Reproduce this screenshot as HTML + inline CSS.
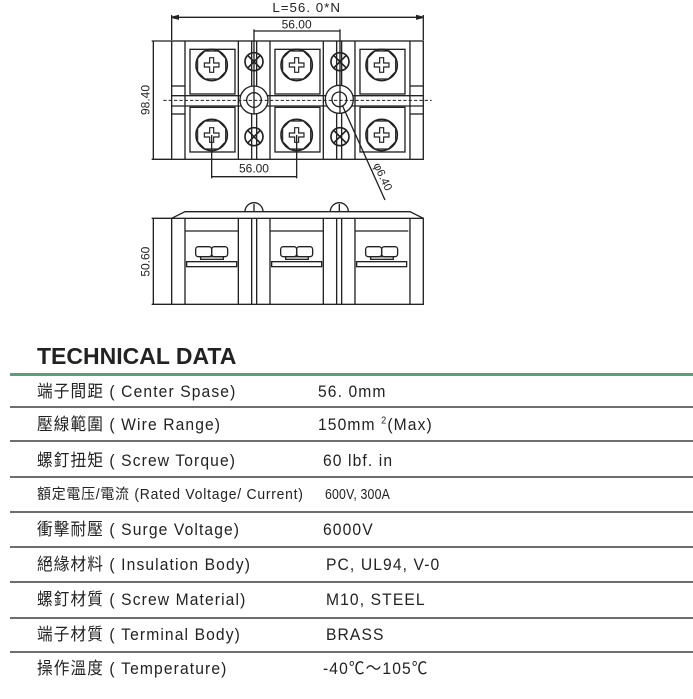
<!DOCTYPE html>
<html><head><meta charset="utf-8">
<style>
html,body{margin:0;padding:0;background:#fff;width:693px;height:699px;overflow:hidden;position:relative}
.t{position:absolute;font-family:"Liberation Sans","Noto Sans CJK TC",sans-serif;font-size:17px;line-height:20px;color:#222;white-space:nowrap;letter-spacing:1.2px;transform:scaleX(0.92);transform-origin:0 50%}
.h{position:absolute;left:37px;top:343px;font-family:"Liberation Sans",sans-serif;font-weight:bold;font-size:23px;color:#222}
.g{position:absolute;left:10px;width:683px;height:3px;background:#5c9e7c;top:373px}
.s{position:absolute;left:10px;width:683px;height:2px;background:#6e6e6e}
</style></head><body>
<svg width="693" height="330" style="position:absolute;left:0;top:0" xmlns="http://www.w3.org/2000/svg">
<defs>
<g id="scr">
<circle r="47" fill="none" stroke="#222" stroke-width="5"/>
<polygon points="-20,-42 20,-42 42,-20 42,20 20,42 -20,42 -42,20 -42,-20" fill="none" stroke="#222" stroke-width="3.5"/>
<path d="M-6,-22 H6 V-6 H22 V6 H6 V22 H-6 V6 H-22 V-6 H-6 Z" fill="none" stroke="#222" stroke-width="3.5"/>
</g>
<g id="xs">
<circle r="27" fill="none" stroke="#222" stroke-width="5"/>
<path d="M-18,-18 L18,18 M18,-18 L-18,18" stroke="#222" stroke-width="5"/>
</g>
<g id="clamp">
<rect x="170" y="200" width="150" height="15" fill="none" stroke="#222" stroke-width="4"/>
<rect x="197" y="155" width="48" height="30" rx="8" fill="none" stroke="#222" stroke-width="4"/>
<rect x="245" y="155" width="48" height="30" rx="8" fill="none" stroke="#222" stroke-width="4"/>
<rect x="212" y="185" width="68" height="8" fill="none" stroke="#222" stroke-width="4"/>
<line x1="165" y1="108" x2="325" y2="108" stroke="#222" stroke-width="4"/>
</g>
</defs>
<g transform="translate(130,0) scale(0.3333)" fill="none" stroke="#222" stroke-width="4">
<line x1="125" y1="45" x2="125" y2="120"/><line x1="880" y1="45" x2="880" y2="120"/>
<line x1="125" y1="52" x2="880" y2="52"/>
<path d="M125,52 l20,-5 v10z M880,52 l-20,-5 v10z" fill="#222"/>
<text x="530" y="36" font-family="Liberation Sans,sans-serif" font-size="40" fill="#222" stroke="none" text-anchor="middle" letter-spacing="3">L=56. 0*N</text>
<line x1="372" y1="93" x2="630" y2="93"/>
<line x1="372" y1="88" x2="372" y2="300"/><line x1="630" y1="88" x2="630" y2="300"/>
<text x="500" y="85" font-family="Liberation Sans,sans-serif" font-size="36" fill="#222" stroke="none" text-anchor="middle">56.00</text>
<line x1="65" y1="123" x2="125" y2="123"/><line x1="65" y1="478" x2="125" y2="478"/>
<line x1="70" y1="123" x2="70" y2="478"/>
<text transform="translate(58,300) rotate(-90)" font-family="Liberation Sans,sans-serif" font-size="36" fill="#222" stroke="none" text-anchor="middle">98.40</text>
<rect x="125" y="123" width="755" height="355"/>
<line x1="165" y1="123" x2="165" y2="478"/><line x1="840" y1="123" x2="840" y2="478"/>
<line x1="125" y1="258" x2="165" y2="258"/><line x1="125" y1="342" x2="165" y2="342"/>
<line x1="840" y1="258" x2="880" y2="258"/><line x1="840" y1="342" x2="880" y2="342"/>
<line x1="325" y1="123" x2="325" y2="478"/><line x1="420" y1="123" x2="420" y2="478"/>
<line x1="365" y1="123" x2="365" y2="478"/><line x1="380" y1="123" x2="380" y2="478"/>
<line x1="580" y1="123" x2="580" y2="478"/><line x1="675" y1="123" x2="675" y2="478"/>
<line x1="620" y1="123" x2="620" y2="478"/><line x1="635" y1="123" x2="635" y2="478"/>
<rect x="180" y="148" width="135" height="134"/><rect x="180" y="322" width="135" height="134"/>
<rect x="435" y="148" width="135" height="134"/><rect x="435" y="322" width="135" height="134"/>
<rect x="690" y="148" width="135" height="134"/><rect x="690" y="322" width="135" height="134"/>
<line x1="125" y1="287" x2="880" y2="287"/><line x1="125" y1="318" x2="880" y2="318"/>
<use href="#scr" x="245" y="195"/><use href="#scr" x="500" y="195"/><use href="#scr" x="755" y="195"/>
<use href="#scr" x="245" y="405"/><use href="#scr" x="500" y="405"/><use href="#scr" x="755" y="405"/>
<use href="#xs" x="372" y="185"/><use href="#xs" x="630" y="185"/>
<use href="#xs" x="372" y="410"/><use href="#xs" x="630" y="410"/>
<circle cx="372" cy="300" r="42" fill="#fff"/><circle cx="372" cy="300" r="22"/>
<circle cx="628" cy="298" r="42" fill="#fff"/><circle cx="628" cy="298" r="22"/>
<line x1="372" y1="258" x2="372" y2="342"/><line x1="630" y1="256" x2="630" y2="340"/>
<line x1="100" y1="301" x2="905" y2="301" stroke-dasharray="10,6" stroke-width="3"/>
<line x1="245" y1="405" x2="245" y2="535"/><line x1="500" y1="405" x2="500" y2="535"/>
<line x1="245" y1="530" x2="500" y2="530"/>
<text x="372" y="518" font-family="Liberation Sans,sans-serif" font-size="36" fill="#222" stroke="none" text-anchor="middle">56.00</text>
<line x1="638" y1="318" x2="765" y2="600"/>
<text transform="translate(730,495) rotate(65)" font-family="Liberation Sans,sans-serif" font-size="34" fill="#222" stroke="none">φ6.40</text>
</g>
<g transform="translate(130,195) scale(0.3333)" fill="none" stroke="#222" stroke-width="4">
<path d="M125,70 L165,50 L840,50 L880,70"/>
<path d="M345,50 a27,27 0 0 1 54,0 M372,27 v23"/>
<path d="M601,50 a27,27 0 0 1 54,0 M628,27 v23"/>
<rect x="125" y="70" width="755" height="258"/>
<line x1="165" y1="70" x2="165" y2="328"/><line x1="840" y1="70" x2="840" y2="328"/>
<line x1="325" y1="70" x2="325" y2="328"/><line x1="420" y1="70" x2="420" y2="328"/>
<line x1="365" y1="70" x2="365" y2="328"/><line x1="380" y1="70" x2="380" y2="328"/>
<line x1="580" y1="70" x2="580" y2="328"/><line x1="675" y1="70" x2="675" y2="328"/>
<line x1="620" y1="70" x2="620" y2="328"/><line x1="635" y1="70" x2="635" y2="328"/>
<use href="#clamp"/><use href="#clamp" x="255"/><use href="#clamp" x="510"/>
<line x1="65" y1="70" x2="125" y2="70"/><line x1="65" y1="328" x2="125" y2="328"/>
<line x1="70" y1="70" x2="70" y2="328"/>
<text transform="translate(58,200) rotate(-90)" font-family="Liberation Sans,sans-serif" font-size="36" fill="#222" stroke="none" text-anchor="middle">50.60</text>
</g>
</svg>
<div class="h">TECHNICAL DATA</div>
<div class="g"></div>
<div class="s" style="top:406px"></div>
<div class="s" style="top:440px"></div>
<div class="s" style="top:476px"></div>
<div class="s" style="top:511px"></div>
<div class="s" style="top:546px"></div>
<div class="s" style="top:581px"></div>
<div class="s" style="top:617px"></div>
<div class="s" style="top:651px"></div>
<div class="t" style="left:37px;top:382px">端子間距 ( Center Spase)</div><div class="t" style="left:318px;top:382px">56. 0mm</div>
<div class="t" style="left:37px;top:415px">壓線範圍 ( Wire Range)</div><div class="t" style="left:318px;top:415px">150mm <sup style="font-size:10px;line-height:0">2</sup>(Max)</div>
<div class="t" style="left:37px;top:451px">螺釘扭矩 ( Screw Torque)</div><div class="t" style="left:323px;top:451px">60 lbf. in</div>
<div class="t" style="left:37px;top:485px;font-size:14.5px;letter-spacing:0.8px;transform:scaleX(0.96)">額定電压/電流 (Rated Voltage/ Current)</div><div class="t" style="left:325px;top:485px;font-size:14.5px;letter-spacing:0.2px;transform:scaleX(0.85)">600V, 300A</div>
<div class="t" style="left:37px;top:520px">衝擊耐壓 ( Surge Voltage)</div><div class="t" style="left:323px;top:520px">6000V</div>
<div class="t" style="left:37px;top:555px">絕緣材料 ( Insulation Body)</div><div class="t" style="left:326px;top:555px">PC, UL94, V-0</div>
<div class="t" style="left:37px;top:590px">螺釘材質 ( Screw Material)</div><div class="t" style="left:326px;top:590px">M10, STEEL</div>
<div class="t" style="left:37px;top:625px">端子材質 ( Terminal Body)</div><div class="t" style="left:326px;top:625px">BRASS</div>
<div class="t" style="left:37px;top:659px">操作溫度 ( Temperature)</div><div class="t" style="left:323px;top:659px">-40℃～105℃</div>
</body></html>
